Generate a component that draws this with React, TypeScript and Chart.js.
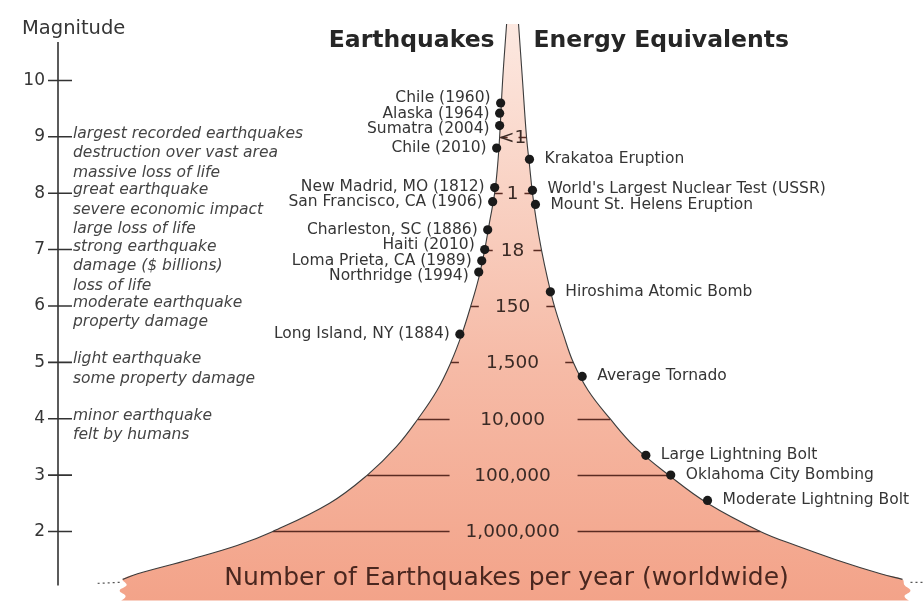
import React, { useEffect, useRef } from 'react';
import { Chart, registerables } from 'chart.js';

Chart.register(...registerables);

// ---------------- data ----------------
const magnitudeTicks = [2, 3, 4, 5, 6, 7, 8, 9, 10];

// funnel outline: magnitude and horizontal half-width (left negative, right positive)
const funnelMagnitudes = [11.0, 10.0, 9.0, 8.5, 8.0, 7.5, 7.0, 6.5, 6.0, 5.5, 5.0, 4.5, 4.0, 3.5, 3.0, 2.5, 2.0, 1.75, 1.5, 1.25, 1.15];
const funnelLeft = [-6, -10, -13, -15, -18, -23, -28, -34, -42, -51, -62, -76, -95, -117, -146, -184, -241, -277, -325, -377, -392];
const funnelRight = [6, 10, 14, 17, 20, 24, 29, 35, 42, 51, 61, 76, 98, 123, 157, 196, 249, 285, 325, 370, 392];

const countMagnitudes = [9, 8, 7, 6, 5, 4, 3, 2];
const countLabels = ['<1', '1', '18', '150', '1,500', '10,000', '100,000', '1,000,000'];

const quakeNames = [
  'Chile (1960)',
  'Alaska (1964)',
  'Sumatra (2004)',
  'Chile (2010)',
  'New Madrid, MO (1812)',
  'San Francisco, CA (1906)',
  'Charleston, SC (1886)',
  'Haiti (2010)',
  'Loma Prieta, CA (1989)',
  'Northridge (1994)',
  'Long Island, NY (1884)',
];
const quakeMagnitudes = [9.6, 9.42, 9.2, 8.8, 8.1, 7.85, 7.35, 7.0, 6.8, 6.6, 5.5];
const quakeOffsets = [-12, -13, -13, -16, -18, -20, -25, -28, -31, -34, -53];

const energyNames = [
  'Krakatoa Eruption',
  "World's Largest Nuclear Test (USSR)",
  'Mount St. Helens Eruption',
  'Hiroshima Atomic Bomb',
  'Average Tornado',
  'Large Lightning Bolt',
  'Oklahoma City Bombing',
  'Moderate Lightning Bolt',
];
const energyMagnitudes = [8.6, 8.05, 7.8, 6.25, 4.75, 3.35, 3.0, 2.55];
const energyOffsets = [17, 20, 23, 38, 70, 134, 159, 196];

const scaleMagnitudes = [9, 8, 7, 6, 5, 4];
const scaleDescriptions = [
  ['largest recorded earthquakes', 'destruction over vast area', 'massive loss of life'],
  ['great earthquake', 'severe economic impact', 'large loss of life'],
  ['strong earthquake', 'damage ($ billions)', 'loss of life'],
  ['moderate earthquake', 'property damage'],
  ['light earthquake', 'some property damage'],
  ['minor earthquake', 'felt by humans'],
];

const leftTitle = 'Earthquakes';
const rightTitle = 'Energy Equivalents';
const axisTitle = 'Magnitude';
const bottomTitle = 'Number of Earthquakes per year (worldwide)';

// ---------------- styling ----------------
const FONT = '"DejaVu Sans", "Liberation Sans", Arial, sans-serif';
const TEXT = '#353535';
const EDGE_TENSION = 0.4;

function buildOutline() {
  const pts: { x: number; y: number }[] = [];
  funnelMagnitudes.forEach((m, i) => pts.push({ x: funnelLeft[i], y: m }));
  const n = funnelMagnitudes.length - 1;
  const lm = funnelMagnitudes[n];
  const l = funnelLeft[n];
  const r = funnelRight[n];
  // torn bottom-left edge
  pts.push({ x: l + 4, y: lm - 0.1 }, { x: l - 3, y: lm - 0.2 }, { x: l + 3, y: lm - 0.3 }, { x: l - 3, y: lm - 0.42 }, { x: l - 3, y: 0.5 });
  // torn bottom-right edge
  pts.push({ x: r + 8, y: 0.5 }, { x: r + 8, y: lm - 0.42 }, { x: r + 2, y: lm - 0.3 }, { x: r + 8, y: lm - 0.2 }, { x: r + 2, y: lm - 0.1 });
  for (let i = n; i >= 0; i--) pts.push({ x: funnelRight[i], y: funnelMagnitudes[i] });
  return pts;
}

// spread label positions so that neighbours keep a minimum distance
function spread(ys: number[], minGap: number) {
  const order = ys.map((y, i) => i).sort((a, b) => ys[a] - ys[b]);
  const out = ys.slice();
  for (let it = 0; it < 30; it++) {
    for (let k = 0; k < order.length - 1; k++) {
      const a = order[k];
      const b = order[k + 1];
      const gap = out[b] - out[a];
      if (gap < minGap) {
        const d = (minGap - gap) / 2;
        out[a] -= d;
        out[b] += d;
      }
    }
  }
  return out;
}

const overlayPlugin = {
  id: 'overlay',
  afterDatasetDraw(chart: any, args: any) {
    if (args.index !== 0) return;
    const ctx = chart.ctx;
    const xs = chart.scales.x;
    const ys = chart.scales.y;
    const cx = xs.getPixelForValue(0);
    ctx.save();
    ctx.strokeStyle = '#5a2b22';
    ctx.lineWidth = 1.5;
    countMagnitudes.forEach((m, i) => {
      const k = funnelMagnitudes.indexOf(m);
      const y = Math.round(ys.getPixelForValue(m)) + 0.5;
      const xl = xs.getPixelForValue(funnelLeft[k]);
      const xr = xs.getPixelForValue(funnelRight[k]);
      ctx.beginPath();
      if (m <= 4) {
        ctx.moveTo(xl, y);
        ctx.lineTo(cx - 63, y);
        ctx.moveTo(cx + 65, y);
        ctx.lineTo(xr, y);
      } else {
        ctx.moveTo(xl, y);
        ctx.lineTo(xl + 8, y);
        ctx.moveTo(xr, y);
        ctx.lineTo(xr - 8, y);
      }
      ctx.stroke();
      ctx.fillStyle = '#3a2a25';
      ctx.font = `18.5px ${FONT}`;
      ctx.textAlign = 'center';
      ctx.textBaseline = 'middle';
      ctx.fillText(countLabels[i], cx, y + 1);
    });
    // dotted continuation beyond the torn edges
    const n = funnelMagnitudes.length - 1;
    const ye = ys.getPixelForValue(funnelMagnitudes[n]) + 3;
    const xl = xs.getPixelForValue(funnelLeft[n]);
    const xr = xs.getPixelForValue(funnelRight[n]);
    ctx.strokeStyle = '#555';
    ctx.lineWidth = 1.2;
    ctx.setLineDash([2, 3]);
    ctx.beginPath();
    ctx.moveTo(xl - 3, ye);
    ctx.lineTo(xl - 26, ye + 1);
    ctx.moveTo(xr + 8, ye);
    ctx.lineTo(xr + 20, ye);
    ctx.stroke();
    ctx.setLineDash([]);
    // bottom title
    ctx.fillStyle = '#4a271f';
    ctx.font = `25px ${FONT}`;
    ctx.textAlign = 'center';
    ctx.textBaseline = 'alphabetic';
    ctx.fillText(bottomTitle, cx - 6, chart.chartArea.bottom - 15);
    ctx.restore();
  },
  afterDraw(chart: any) {
    const ctx = chart.ctx;
    const xs = chart.scales.x;
    const ys = chart.scales.y;
    const cx = xs.getPixelForValue(0);
    const ax = chart.chartArea.left;
    ctx.save();
    // magnitude axis line and crossing ticks
    ctx.strokeStyle = '#333';
    ctx.lineWidth = 1.6;
    ctx.beginPath();
    ctx.moveTo(ax, ys.getPixelForValue(10.68));
    ctx.lineTo(ax, ys.getPixelForValue(1.04));
    magnitudeTicks.forEach((t) => {
      const y = ys.getPixelForValue(t);
      ctx.moveTo(ax - 10, y);
      ctx.lineTo(ax + 14, y);
    });
    ctx.stroke();

    // axis title
    ctx.fillStyle = TEXT;
    ctx.font = `19.5px ${FONT}`;
    ctx.textAlign = 'left';
    ctx.textBaseline = 'alphabetic';
    ctx.fillText(axisTitle, ax - 36, ys.getPixelForValue(10.68) - 8);

    // column titles
    ctx.fillStyle = '#262626';
    ctx.font = `bold 23.5px ${FONT}`;
    ctx.textAlign = 'right';
    ctx.fillText(leftTitle, cx - 18, 47);
    ctx.textAlign = 'left';
    ctx.fillText(rightTitle, cx + 21, 47);

    // magnitude descriptions
    ctx.fillStyle = '#444';
    ctx.font = `italic 15.5px ${FONT}`;
    ctx.textAlign = 'left';
    ctx.textBaseline = 'middle';
    scaleMagnitudes.forEach((m, i) => {
      const y0 = ys.getPixelForValue(m) - 3;
      scaleDescriptions[i].forEach((line, j) => {
        ctx.fillText(line, ax + 15, y0 + j * 19.5);
      });
    });

    // event labels
    ctx.fillStyle = TEXT;
    ctx.font = `15.5px ${FONT}`;
    const qMeta = chart.getDatasetMeta(3);
    const qY = spread(qMeta.data.map((p: any) => p.y), 15.5);
    ctx.textAlign = 'right';
    qMeta.data.forEach((pt: any, i: number) => {
      ctx.fillText(quakeNames[i], pt.x - 10, qY[i]);
    });
    const eMeta = chart.getDatasetMeta(4);
    const eY = spread(eMeta.data.map((p: any) => p.y), 16);
    ctx.textAlign = 'left';
    eMeta.data.forEach((pt: any, i: number) => {
      ctx.fillText(energyNames[i], pt.x + 15, eY[i]);
    });
    ctx.restore();
  },
};

export default function App() {
  const canvasRef = useRef<HTMLCanvasElement | null>(null);

  useEffect(() => {
    const canvas = canvasRef.current;
    if (!canvas) return;
    const outline = buildOutline();
    const leftEdge = funnelMagnitudes.map((m, i) => ({ x: funnelLeft[i], y: m }));
    const rightEdge = funnelMagnitudes.map((m, i) => ({ x: funnelRight[i], y: m }));
    const quakes = quakeMagnitudes.map((m, i) => ({ x: quakeOffsets[i], y: m }));
    const energy = energyMagnitudes.map((m, i) => ({ x: energyOffsets[i], y: m }));

    const chart = new Chart(canvas, {
      type: 'scatter',
      data: {
        datasets: [
          {
            data: outline,
            showLine: true,
            fill: 'shape',
            tension: EDGE_TENSION,
            borderWidth: 0,
            pointRadius: 0,
            clip: false,
            order: 10,
            backgroundColor: (c: any) => {
              const area = c.chart.chartArea;
              if (!area) return '#f6b9a5';
              const g = c.chart.ctx.createLinearGradient(0, area.top, 0, area.bottom);
              g.addColorStop(0, '#fdebe4');
              g.addColorStop(0.3, '#f9d3c5');
              g.addColorStop(0.6, '#f6bba7');
              g.addColorStop(1, '#f3a389');
              return g;
            },
          } as any,
          {
            data: leftEdge,
            showLine: true,
            tension: EDGE_TENSION,
            borderColor: '#3b3b3b',
            borderWidth: 1.1,
            pointRadius: 0,
            clip: false,
            order: 5,
          },
          {
            data: rightEdge,
            showLine: true,
            tension: EDGE_TENSION,
            borderColor: '#3b3b3b',
            borderWidth: 1.1,
            pointRadius: 0,
            clip: false,
            order: 5,
          },
          {
            data: quakes,
            showLine: false,
            pointRadius: 4.6,
            pointBackgroundColor: '#1a1a1a',
            pointBorderColor: '#1a1a1a',
            pointBorderWidth: 0,
            clip: false,
            order: 1,
          },
          {
            data: energy,
            showLine: false,
            pointRadius: 4.6,
            pointBackgroundColor: '#1a1a1a',
            pointBorderColor: '#1a1a1a',
            pointBorderWidth: 0,
            clip: false,
            order: 1,
          },
        ],
      },
      options: {
        responsive: false,
        animation: false,
        events: [],
        layout: { padding: 0 },
        plugins: {
          legend: { display: false },
          tooltip: { enabled: false },
          title: { display: false },
        },
        scales: {
          x: { type: 'linear', min: -457, max: 408, display: false },
          y: {
            type: 'linear',
            position: 'left',
            min: 0.7773,
            max: 11.345,
            afterBuildTicks: (s: any) => {
              s.ticks = magnitudeTicks.map((v) => ({ value: v }));
            },
            afterFit: (s: any) => {
              s.width = 58;
              s.paddingTop = 0;
              s.paddingBottom = 0;
            },
            grid: { display: false, drawTicks: false },
            border: { display: false },
            ticks: {
              padding: 13,
              color: TEXT,
              font: { family: FONT, size: 17 },
              autoSkip: false,
            },
          },
        },
      },
      plugins: [overlayPlugin],
    } as any);

    return () => chart.destroy();
  }, []);

  return (
    <div style={{ position: 'absolute', left: 0, top: 0, width: 923, height: 605, background: '#fff' }}>
      <canvas ref={canvasRef} width={923} height={605} style={{ display: 'block' }} />
    </div>
  );
}
